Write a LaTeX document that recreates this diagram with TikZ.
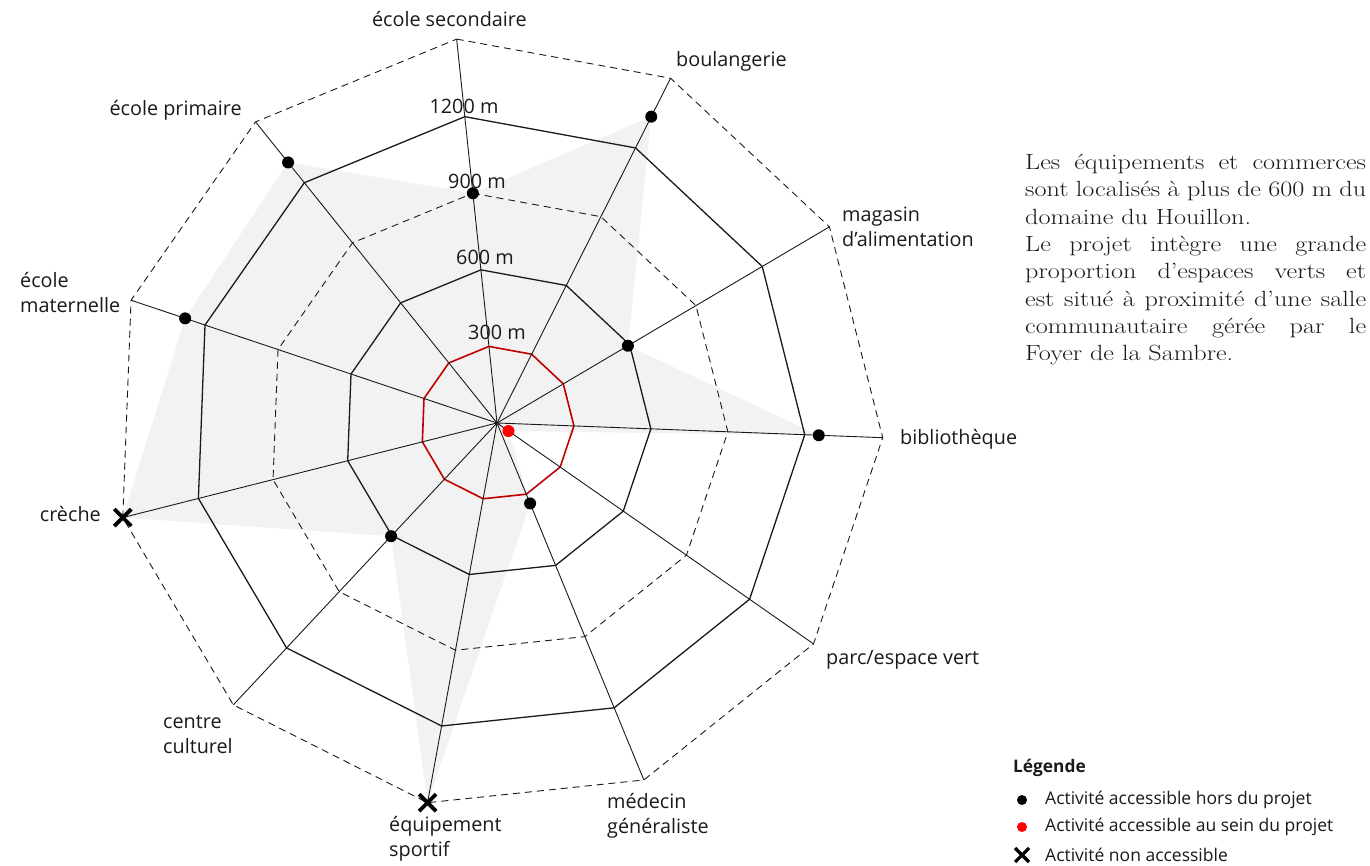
\documentclass[tikz,border=0pt]{standalone}
\usepackage{fontspec}
\usepackage{graphicx}
\setsansfont{Open Sans}
\definecolor{ink}{HTML}{1A1A1A}
\definecolor{webfill}{HTML}{F2F2F2}
\definecolor{ringred}{HTML}{C00000}
\definecolor{dotred}{HTML}{FF0000}
\begin{document}
\begin{tikzpicture}[x=1pt,y=1pt,
  lbl/.style={font=\sffamily\fontsize{19.8}{25}\selectfont, text=ink, inner sep=0pt, align=left},
  leglbl/.style={font=\sffamily\fontsize{17.5}{20}\selectfont, text=ink, inner sep=0pt, anchor=west},
  axisline/.style={draw=ink, line width=0.9pt},
  solidring/.style={draw=ink, line width=1.3pt},
  dashring/.style={draw=ink, line width=0.9pt, dash pattern=on 7pt off 5pt},
  redring/.style={draw=ringred, line width=1.6pt},
  bdot/.style={circle, fill=black, inner sep=0pt, minimum size=12pt},
  rdot/.style={circle, fill=dotred, inner sep=0pt, minimum size=12pt},
  xmk/.pic={\draw[line width=3.8pt, draw=black] (-8.5,-8.5) -- (8.5,8.5) (-8.5,8.5) -- (8.5,-8.5);},
  xmksmall/.pic={\draw[line width=3.2pt, draw=black] (-7,-7) -- (7,7) (-7,7) -- (7,-7);}
]
\fill[white] (0,0) rectangle (1370,-866);
\useasboundingbox (0,0) rectangle (1370,-866);

\begin{scope}[shift={(497,-423)}]
  \coordinate (O) at (0,0);
  % data polygon
  \fill[webfill] (96:231) -- (63.273:343) -- (30.545:152) -- (-2.182:322) -- (-34.909:14)
     -- (-67.636:87) -- (-100.364:386) -- (-133.091:155) -- (-165.818:386)
     -- (161.455:329) -- (128.727:334) -- cycle;
  % rings
  \draw[redring]   (96:77)  \foreach \k in {1,...,10}{ -- ({96-\k*360/11}:77)}  -- cycle;
  \draw[solidring] (96:154) \foreach \k in {1,...,10}{ -- ({96-\k*360/11}:154)} -- cycle;
  \draw[dashring]  (96:231) \foreach \k in {1,...,10}{ -- ({96-\k*360/11}:231)} -- cycle;
  \draw[solidring] (96:308) \foreach \k in {1,...,10}{ -- ({96-\k*360/11}:308)} -- cycle;
  \draw[dashring]  (96:386) \foreach \k in {1,...,10}{ -- ({96-\k*360/11}:386)} -- cycle;
  % axes
  \foreach \i in {0,...,10}{
    \pgfmathsetmacro{\ang}{96-\i*360/11}
    \coordinate (A\i) at (\ang:386);
    \draw[axisline] (O) -- (A\i);
  }
  % markers
  \node[bdot] (p0) at (96:231) {};
  \node[bdot] (p1) at (63.273:343) {};
  \node[bdot] (p2) at (30.545:152) {};
  \node[bdot] (p3) at (-2.182:322) {};
  \node[rdot] (p4) at (-34.909:14) {};
  \node[bdot] (p5) at (-67.636:87) {};
  \pic (p6) at (-100.364:386) {xmk};
  \node[bdot] (p7) at (-133.091:155) {};
  \pic (p8) at (-165.818:386) {xmk};
  \node[bdot] (p9) at (161.455:329) {};
  \node[bdot] (p10) at (128.727:334) {};
\end{scope}

% ring labels
\node[lbl] (r1200) at (464,-106) {1200 m};
\node[lbl] (r900)  at (477,-181) {900 m};
\node[lbl] (r600)  at (485,-257) {600 m};
\node[lbl] (r300)  at (497,-332) {300 m};

% axis labels
\node[lbl, anchor=east] (l0) at (527,-19) {école secondaire};
\node[lbl, anchor=west] (l1) at (676,-61) {boulangerie};
\node[lbl, anchor=west] (l2) at (842,-227) {magasin\\d’alimentation};
\node[lbl, anchor=west] (l3) at (900,-439) {bibliothèque};
\node[lbl, anchor=west] (l4) at (826,-660) {parc/espace vert};
\node[lbl, anchor=west] (l5) at (607,-816) {médecin\\généraliste};
\node[lbl, anchor=west] (l6) at (389,-839) {équipement\\sportif};
\node[lbl, anchor=west] (l7) at (163,-735) {centre\\culturel};
\node[lbl, anchor=east] (l8) at (101,-514) {crèche};
\node[lbl, anchor=west] (l9) at (20,-293) {école\\maternelle};
\node[lbl, anchor=east] (l10) at (242,-110) {école primaire};

% paragraph
\node[anchor=north west, inner sep=0pt, text=ink] (para) at (1025,-154)
  {\scalebox{1.19}[1]{\parbox[t]{286.5pt}{\fontsize{22}{27.3}\selectfont
   \tolerance=10000\hyphenpenalty=10000\relax
   Les équipements et commerces\linebreak sont localisés à plus de 600 m du\linebreak domaine du Houillon.\par
   Le projet intègre une grande\linebreak proportion d’espaces verts et\linebreak est situé à proximité d’une salle\linebreak communautaire gérée par le\linebreak Foyer de la Sambre.}}};

% legend
\node[leglbl, font=\sffamily\bfseries\fontsize{17.3}{20}\selectfont] (leg) at (1013,-768) {Légende};
\node[circle, fill=black, inner sep=0pt, minimum size=10pt] (m1) at (1022,-800) {};
\node[leglbl] (t1) at (1045,-800) {Activité accessible hors du projet};
\node[circle, fill=dotred, inner sep=0pt, minimum size=10pt] (m2) at (1022,-827) {};
\node[leglbl] (t2) at (1045,-827) {Activité accessible au sein du projet};
\pic (m3) at (1022,-855) {xmksmall};
\node[leglbl] (t3) at (1045,-855) {Activité non accessible};
\end{tikzpicture}
\end{document}
